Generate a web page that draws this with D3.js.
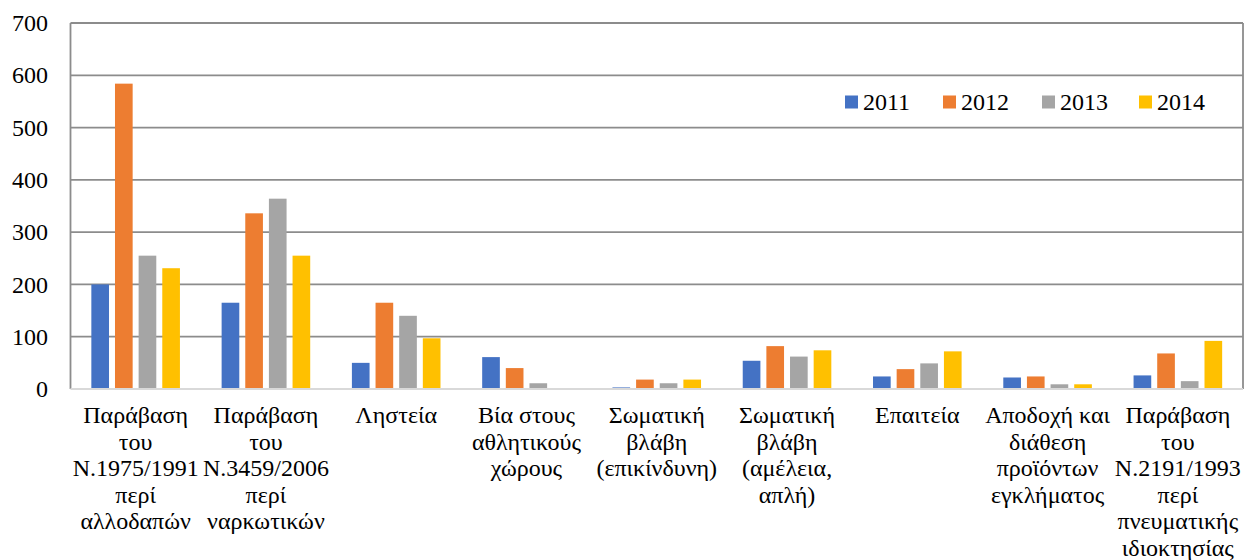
<!DOCTYPE html>
<html>
<head>
<meta charset="utf-8">
<script src="https://cdn.jsdelivr.net/npm/d3@7/dist/d3.min.js"></script>
<style>
  html, body { margin: 0; padding: 0; background: #fff; }
  svg { display: block; }
</style>
</head>
<body>
<svg id="chart" width="1245" height="560" font-family="Liberation Serif"></svg>
<script>
const categories = [
  ["Παράβαση", "του", "Ν.1975/1991", "περί", "αλλοδαπών"],
  ["Παράβαση", "του", "Ν.3459/2006", "περί", "ναρκωτικών"],
  ["Ληστεία"],
  ["Βία στους", "αθλητικούς", "χώρους"],
  ["Σωματική", "βλάβη", "(επικίνδυνη)"],
  ["Σωματική", "βλάβη", "(αμέλεια,", "απλή)"],
  ["Επαιτεία"],
  ["Αποδοχή και", "διάθεση", "προϊόντων", "εγκλήματος"],
  ["Παράβαση", "του", "Ν.2191/1993", "περί", "πνευματικής", "ιδιοκτησίας"]
];
const seriesNames = ["2011", "2012", "2013", "2014"];
const values2011 = [200, 165, 50, 61, 3, 54, 24, 22, 26];
const values2012 = [584, 336, 165, 40, 18, 82, 38, 24, 68];
const values2013 = [255, 364, 140, 11, 11, 62, 49, 9, 15];
const values2014 = [231, 255, 97, 0, 18, 74, 72, 9, 92];
const yTicks = [0, 100, 200, 300, 400, 500, 600, 700];
const colors = ["#4472C4", "#ED7D31", "#A5A5A5", "#FFC000"];

const seriesValues = [values2011, values2012, values2013, values2014];
const svg = d3.select("#chart");
const FONT = "Liberation Serif";
const FS = 24;

const pLeft = 70.5, pRight = 1243, pTop = 23, pBottom = 389;
const y = d3.scaleLinear().domain([0, 700]).range([pBottom, pTop]);
const x0 = d3.scaleBand().domain(d3.range(categories.length)).range([pLeft, pRight])
  .paddingInner(0.32).paddingOuter(0.16);
const x1 = d3.scaleBand().domain(seriesNames).range([0, x0.bandwidth()])
  .paddingInner(0.253).paddingOuter(0);

// gridlines
svg.append("g").selectAll("line").data(yTicks.filter(t => t > 0)).join("line")
  .attr("x1", pLeft).attr("x2", pRight)
  .attr("y1", d => y(d)).attr("y2", d => y(d))
  .attr("stroke", "#8c8c8c").attr("stroke-width", 1.8);

// right border
svg.append("line").attr("x1", pRight).attr("x2", pRight).attr("y1", pTop).attr("y2", pBottom)
  .attr("stroke", "#8c8c8c").attr("stroke-width", 1.8);
// left axis
svg.append("line").attr("x1", pLeft).attr("x2", pLeft).attr("y1", pTop).attr("y2", pBottom)
  .attr("stroke", "#8c8c8c").attr("stroke-width", 1.8);

// bars
const groups = svg.append("g").selectAll("g").data(categories).join("g")
  .attr("transform", (d, i) => `translate(${x0(i)},0)`);
groups.selectAll("rect").data((d, i) => seriesNames.map((s, j) => ({ s, j, v: seriesValues[j][i] })))
  .join("rect")
  .attr("x", d => x1(d.s))
  .attr("width", x1.bandwidth())
  .attr("y", d => y(d.v))
  .attr("height", d => y(0) - y(d.v))
  .attr("fill", d => colors[d.j]);

// bottom axis line
svg.append("line").attr("x1", pLeft).attr("x2", pRight).attr("y1", pBottom).attr("y2", pBottom)
  .attr("stroke", "#d9d9d9").attr("stroke-width", 2);

// y axis labels
const yAxis = d3.axisLeft(y).tickValues(yTicks).tickSize(0).tickPadding(0);
const yg = svg.append("g").attr("transform", `translate(48,0)`).call(yAxis)
  .attr("font-family", FONT).attr("font-size", FS);
yg.select(".domain").remove();
yg.selectAll("text").style("font-family", FONT).style("font-size", FS + "px").attr("fill", "#000");

// x labels
const xl = svg.append("g").selectAll("text").data(categories).join("text")
  .attr("text-anchor", "middle")
  .style("font-family", FONT).style("font-size", FS + "px")
  .attr("fill", "#000")
  .attr("x", (d, i) => x0(i) + x0.bandwidth() / 2)
  .attr("y", 423);
xl.selectAll("tspan").data(d => d).join("tspan")
  .attr("x", function () { return d3.select(this.parentNode).attr("x"); })
  .attr("dy", (d, i) => i === 0 ? 0 : 26.5)
  .text(d => d);

// legend
const legendX = [845, 943, 1042, 1139];
const lg = svg.append("g").selectAll("g").data(seriesNames).join("g")
  .attr("transform", (d, i) => `translate(${legendX[i]},102)`);
lg.append("rect").attr("x", 0).attr("y", -6.5).attr("width", 13).attr("height", 13)
  .attr("fill", (d, i) => colors[i]);
lg.append("text").attr("x", 18).attr("y", 8)
  .style("font-family", FONT).style("font-size", FS + "px").attr("fill", "#000")
  .text(d => d);
</script>
</body>
</html>
